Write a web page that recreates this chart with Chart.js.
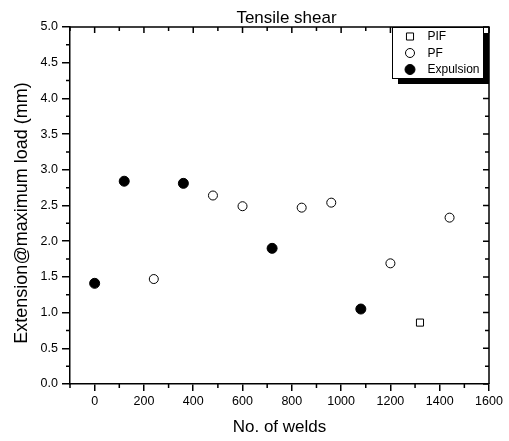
<!DOCTYPE html>
<html>
<head>
<meta charset="utf-8">
<script src="https://cdn.jsdelivr.net/npm/chart.js@4/dist/chart.umd.min.js"></script>
<style>
  html, body { margin: 0; padding: 0; background: #fff; }
  #wrap { width: 509px; height: 441px; }
</style>
</head>
<body>
<div id="wrap"><canvas id="c" width="509" height="441"></canvas></div>
<script>
// Text
const chartTitle = 'Tensile shear';
const xTitle = 'No. of welds';
const yTitle = 'Extension@maximum load (mm)';

// Axis ticks
const xTicks = [0, 200, 400, 600, 800, 1000, 1200, 1400, 1600];
const yTicks = [0, 0.5, 1.0, 1.5, 2.0, 2.5, 3.0, 3.5, 4.0, 4.5, 5.0];

// Series: number of welds vs extension at maximum load
const pifWelds = [1320];
const pifExt   = [0.86];

const pfWelds = [240, 480, 600, 840, 960, 1200, 1440];
const pfExt   = [1.47, 2.64, 2.49, 2.47, 2.54, 1.69, 2.33];

const expWelds = [0, 120, 360, 720, 1080];
const expExt   = [1.41, 2.84, 2.81, 1.90, 1.05];

const FONT = "'Liberation Sans', Arial, sans-serif";
const INK = '#000';

const toPoints = (xs, ys) => xs.map((v, i) => ({ x: v, y: ys[i] }));

// Mirror axes, minor ticks, framed legend with drop shadow, titles
const decorations = {
  id: 'decorations',
  afterDraw(chart) {
    const { ctx, chartArea: a, scales: { x, y } } = chart;
    ctx.save();
    ctx.strokeStyle = INK;
    ctx.lineWidth = 1.5;

    // top and right axis lines
    ctx.beginPath();
    ctx.moveTo(a.left, a.top);
    ctx.lineTo(a.right, a.top);
    ctx.lineTo(a.right, a.bottom);
    ctx.stroke();

    const seg = (x1, y1, x2, y2) => { ctx.moveTo(x1, y1); ctx.lineTo(x2, y2); };
    const xStep = xTicks[1] - xTicks[0];
    const yStep = yTicks[1] - yTicks[0];

    ctx.beginPath();
    // x: minor ticks (bottom outward), all ticks on top inward
    for (let v = x.min; v <= x.max + 1e-6; v += xStep / 2) {
      const px = x.getPixelForValue(v);
      const major = xTicks.includes(v);
      if (!major) seg(px, a.bottom, px, a.bottom + 4);
      seg(px, a.top, px, a.top + (major ? 6 : 4));
    }
    // y: minor ticks (left outward), all ticks on right inward
    for (let v = y.min; v <= y.max + 1e-6; v += yStep / 2) {
      const py = y.getPixelForValue(v);
      const major = yTicks.some(t => Math.abs(t - v) < 1e-6);
      if (!major) seg(a.left, py, a.left - 4, py);
      seg(a.right, py, a.right - (major ? 6 : 4), py);
    }
    ctx.stroke();

    // legend
    const bx = 392, by = 27, bw = 91, bh = 51, sh = 6;
    ctx.fillStyle = INK;
    ctx.fillRect(bx + sh, by + sh, bw, bh);
    ctx.fillStyle = '#fff';
    ctx.fillRect(bx, by, bw, bh);
    ctx.lineWidth = 1;
    ctx.strokeRect(bx + 0.5, by + 0.5, bw, bh);

    ctx.font = '12px ' + FONT;
    ctx.textBaseline = 'middle';
    ctx.textAlign = 'left';
    chart.data.datasets.forEach((ds, i) => {
      const cy = by + 9.5 + i * 16.5;
      ctx.fillStyle = ds.backgroundColor;
      ctx.strokeStyle = ds.borderColor;
      ctx.lineWidth = ds.borderWidth;
      Chart.helpers.drawPoint(ctx, { pointStyle: ds.pointStyle, radius: ds.pointRadius, borderWidth: ds.borderWidth, rotation: 0 }, 410, cy);
      ctx.fillStyle = INK;
      ctx.fillText(ds.label, 427.5, cy + 0.5);
    });

    // chart title
    ctx.font = '17px ' + FONT;
    ctx.textAlign = 'center';
    ctx.fillStyle = INK;
    ctx.fillText(chartTitle, 286.5, 18);

    // y axis title
    ctx.save();
    ctx.translate(22, 213);
    ctx.rotate(-Math.PI / 2);
    ctx.font = '18px ' + FONT;
    ctx.fillText(yTitle, 0, 0);
    ctx.restore();

    ctx.restore();
  }
};

new Chart(document.getElementById('c'), {
  type: 'scatter',
  data: {
    datasets: [
      { label: 'PIF', data: toPoints(pifWelds, pifExt), pointStyle: 'rect', pointRadius: 5,
        backgroundColor: '#fff', borderColor: INK, borderWidth: 1 },
      { label: 'PF', data: toPoints(pfWelds, pfExt), pointStyle: 'circle', pointRadius: 4.5,
        backgroundColor: '#fff', borderColor: INK, borderWidth: 1 },
      { label: 'Expulsion', data: toPoints(expWelds, expExt), pointStyle: 'circle', pointRadius: 5,
        backgroundColor: INK, borderColor: INK, borderWidth: 1 }
    ]
  },
  options: {
    responsive: false,
    animation: false,
    devicePixelRatio: 1,
    layout: { padding: { top: 27, right: 20, left: 0, bottom: 0 } },
    plugins: { legend: { display: false }, tooltip: { enabled: false } },
    scales: {
      x: {
        type: 'linear', min: -100, max: 1600,
        afterBuildTicks: s => { s.ticks = xTicks.map(v => ({ value: v })); },
        afterFit: s => { s.height = 57; },
        grid: { display: true, drawOnChartArea: false, drawTicks: true, tickLength: 7, color: INK, lineWidth: 1.5 },
        border: { display: true, color: INK, width: 1.5 },
        ticks: { color: INK, padding: 3, maxRotation: 0, font: { family: FONT, size: 12.5 }, callback: v => String(v) },
        title: { display: true, text: xTitle, color: INK, font: { family: FONT, size: 17 }, padding: { top: 0, bottom: 3 } }
      },
      y: {
        type: 'linear', min: 0, max: 5,
        afterBuildTicks: s => { s.ticks = yTicks.map(v => ({ value: v })); },
        afterFit: s => { s.width = 70; },
        grid: { display: true, drawOnChartArea: false, drawTicks: true, tickLength: 8, color: INK, lineWidth: 1.5 },
        border: { display: true, color: INK, width: 1.5 },
        ticks: { color: INK, padding: 4, font: { family: FONT, size: 12.5 }, callback: v => Number(v).toFixed(1) },
        title: { display: false }
      }
    }
  },
  plugins: [decorations]
});
</script>
</body>
</html>
